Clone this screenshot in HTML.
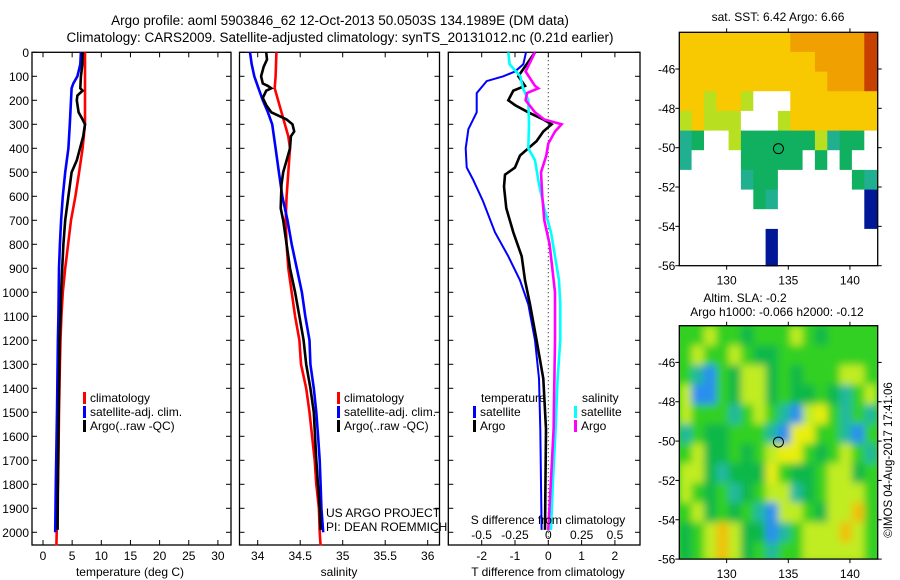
<!DOCTYPE html>
<html><head><meta charset="utf-8"><style>
html,body{margin:0;padding:0;background:#fff;}
svg{display:block;font-family:"Liberation Sans",sans-serif;}
</style></head><body>
<svg id="s" width="900" height="580" viewBox="0 0 900 580">
<defs>
<filter id="blur" x="-10%" y="-10%" width="120%" height="120%"><feGaussianBlur stdDeviation="4"/></filter>
<clipPath id="clipSla"><rect x="679.3" y="325.7" width="198.4" height="233.4"/></clipPath>
</defs>
<text x="340" y="25" font-size="13.5" text-anchor="middle">Argo profile: aoml 5903846_62 12-Oct-2013 50.0503S 134.1989E (DM data)</text>
<text x="340" y="42" font-size="13.5" text-anchor="middle">Climatology: CARS2009. Satellite-adjusted climatology: synTS_20131012.nc (0.21d earlier)</text>
<g id="p1"></g>
<g id="p2"></g>
<g id="p3"></g>
<g id="m1"></g>
<g id="m2"></g>
<text x="130" y="576" font-size="12" text-anchor="middle">temperature (deg C)</text>
<text x="339" y="576" font-size="12" text-anchor="middle">salinity</text>
<text x="548" y="576" font-size="12" text-anchor="middle">T difference from climatology</text>
<text x="548" y="524" font-size="12" text-anchor="middle">S difference from climatology</text>
<text x="326" y="517" font-size="12">US ARGO PROJECT</text>
<text x="326" y="531" font-size="12">PI: DEAN ROEMMICH</text>
<text x="778" y="21" font-size="12" text-anchor="middle">sat. SST: 6.42 Argo: 6.66</text>
<text x="745" y="302" font-size="12" text-anchor="middle">Altim. SLA: -0.2</text>
<text x="777" y="316" font-size="12" text-anchor="middle">Argo h1000: -0.066 h2000: -0.12</text>
<text x="0" y="0" font-size="11.5" text-anchor="middle" transform="translate(892,460) rotate(-90)">©IMOS 04-Aug-2017 17:41:06</text>
</svg>
<script>
// ---- data ----
const depthTicks=[0,100,200,300,400,500,600,700,800,900,1000,1100,1200,1300,1400,1500,1600,1700,1800,1900,2000];
const tempTicks=[0,5,10,15,20,25,30];
const salTicks=[34,34.5,35,35.5,36];
const tdiffTicks=[-2,-1,0,1,2];
const sdiffTicks=[-0.5,-0.25,0,0.25,0.5];
const sdiffLabels=["-0.5","-0.25","0","0.25","0.5"];

const tClimDepth=[0,300,400,500,600,700,800,900,1000,1100,1200,1300,1500,1700,1800,2000,2055];
const tClim=[7.2,7.2,6.8,6.2,5.55,4.8,4.3,3.8,3.4,3.15,3.0,2.9,2.75,2.65,2.55,2.35,2.3];
const tSatDepth=[0,50,100,130,150,200,300,400,500,600,700,800,900,1000,1100,1200,1500,1800,2000];
const tSat=[6.5,6.4,5.9,5.2,4.9,4.8,4.6,4.35,3.8,3.4,3.1,2.9,2.75,2.7,2.65,2.55,2.4,2.2,2.1];
const tArgoDepth=[0,50,100,150,160,180,200,250,280,300,350,400,450,500,600,700,800,900,1000,1100,1200,1400,1600,1800,1990];
const tArgo=[6.8,6.75,6.5,6.4,6.8,5.9,5.8,6.1,6.8,7.2,6.9,6.35,5.8,4.9,4.35,3.8,3.5,3.3,3.1,3.0,2.85,2.75,2.65,2.55,2.5];

const sClimDepth=[0,100,150,200,250,300,350,400,500,600,700,800,900,1000,1100,1200,1300,1400,1500,1600,1700,1800,1900,2000,2055];
const sClim=[34.22,34.21,34.2,34.24,34.28,34.32,34.36,34.38,34.36,34.34,34.33,34.34,34.36,34.40,34.44,34.49,34.51,34.57,34.61,34.64,34.67,34.69,34.72,34.73,34.74];
const sSatDepth=[0,50,100,150,200,250,300,400,500,600,700,800,900,1000,1100,1200,1300,1400,1500,1600,1700,1800,1900,2000];
const sSat=[33.91,33.93,33.96,34.01,34.06,34.12,34.17,34.21,34.25,34.29,34.35,34.40,34.46,34.52,34.56,34.61,34.62,34.66,34.69,34.71,34.73,34.74,34.75,34.77];
const sArgoDepth=[0,30,60,100,130,140,150,160,190,220,250,260,280,300,330,350,400,450,500,550,650,700,800,900,1000,1100,1200,1300,1400,1500,1700,1900,1990];
const sArgo=[34.10,34.11,34.07,34.04,34.06,34.12,34.16,34.10,34.06,34.10,34.16,34.22,34.34,34.41,34.43,34.39,34.38,34.34,34.30,34.28,34.27,34.30,34.34,34.38,34.44,34.49,34.54,34.57,34.62,34.66,34.69,34.73,34.74];

const dTSatDepth=[0,50,80,100,120,170,250,320,400,480,530,620,750,850,950,1050,1200,1360,1570,1990];
const dTSat=[-0.67,-0.75,-1.0,-1.35,-1.85,-2.15,-2.15,-2.4,-2.48,-2.45,-2.26,-1.96,-1.6,-1.2,-0.85,-0.6,-0.4,-0.28,-0.24,-0.2];
const dTArgoDepth=[0,100,140,160,200,220,250,280,300,330,370,430,480,510,560,650,750,850,950,1050,1200,1360,1570,1990];
const dTArgo=[-0.4,-0.9,-0.7,-1.05,-1.2,-1.0,-0.6,-0.15,0.1,-0.15,-0.35,-0.85,-1.0,-1.3,-1.33,-1.26,-1.05,-0.8,-0.7,-0.55,-0.35,-0.15,-0.07,-0.1];
const dSArgoDepth=[0,80,140,150,170,200,250,280,300,330,380,430,500,600,700,800,900,1000,1200,1570,1780,1990];
const dSArgo=[-0.1,-0.17,-0.1,-0.075,-0.16,-0.17,-0.1,-0.03,0.1,0.05,0.0,-0.015,-0.055,-0.045,-0.03,0.01,0.03,0.05,0.05,0.04,0.02,0.0];
const dSSatDepth=[0,50,100,150,200,300,400,450,550,650,750,850,950,1050,1200,1360,1570,1780,1990];
const dSSat=[-0.3,-0.29,-0.21,-0.19,-0.15,-0.145,-0.15,-0.1,-0.07,-0.03,0.02,0.05,0.08,0.09,0.09,0.07,0.055,0.035,0.02];

const sstRows=["yyyyyyyyyoooooor","yyyyyyyyyyyoooor","yyyyyyyyyyyyooor","yylyylwwwyyyyyyy","lylllwwwlyyyyyyy","tgwwlggggggltggw","twwwwgggggwgwgww","wwwwwtggwwwwwwgt","wwwwwwgtwwwwwwwn","wwwwwwwwwwwwwwwn","wwwwwwwnwwwwwwww","wwwwwwwnwwwwwwww"];
const slaRows=["ggyggGgggygGgggg","gyggygGGgggggggg","gcbgGyyGgGgggyyg","ybbgGyyGgGGgGcgy","ygggcgygcbyYgcgc","cgGGgggcbYYggcbg","gyGGgGgyYYgGgygc","yyGcGGGYgGGgyyGg","ygGgcGgyycGgyyyg","gyGgGgcbyygGyyog","GgyoyGGbcgyyyoyg","GgyoyGgcggyyyyyg"];
const latTicks=[-46,-48,-50,-52,-54,-56];
const lonTicks=[130,135,140];
const floatLon=134.2, floatLat=-50.05;

// ---- helpers ----
const NS="http://www.w3.org/2000/svg";
function mk(parent,tag,attrs){const e=document.createElementNS(NS,tag);for(const k in attrs)e.setAttribute(k,attrs[k]);parent.appendChild(e);return e;}
const Y0=52.3, YS=0.24;
const yD=d=>Y0+d*YS;

function panel(g,x0,x1,xf,ticks,labels,showY,name){
  const r=mk(g,'rect',{x:x0,y:Y0,width:x1-x0,height:545-Y0,fill:'none',stroke:'#000','stroke-width':1.3});
  
  
  depthTicks.forEach(d=>{
    mk(g,'line',{x1:x0,x2:x0+5,y1:yD(d),y2:yD(d),stroke:'#000'});
    mk(g,'line',{x1:x1,x2:x1-5,y1:yD(d),y2:yD(d),stroke:'#000'});
    if(showY){const t=mk(g,'text',{x:x0-3,y:yD(d)+4.5,'font-size':12,'text-anchor':'end'});t.textContent=d;
      
      }
  });
  ticks.forEach((v,i)=>{
    const x=xf(v);
    mk(g,'line',{x1:x,x2:x,y1:545,y2:540,stroke:'#000'});
    mk(g,'line',{x1:x,x2:x,y1:Y0,y2:Y0+5,stroke:'#000'});
    if(labels){const t=mk(g,'text',{x:x,y:560,'font-size':12,'text-anchor':'middle'});t.textContent=labels[i];
      
      }
  });
}
function line(g,depths,vals,xf,color,name,w){
  const pts=depths.map((d,i)=>xf(vals[i]).toFixed(1)+','+yD(d).toFixed(1)).join(' ');
  const p=mk(g,'polyline',{points:pts,fill:'none',stroke:color,'stroke-width':w||2.6,'stroke-linejoin':'miter'});
  
  
}
function legend(g,x,y,color,label,name){
  mk(g,'rect',{x:x,y:y-10,width:3,height:12,fill:color});
  const t=mk(g,'text',{x:x+7,y:y,'font-size':12});t.textContent=label;
  
  
}

// panel 1
const p1=document.getElementById('p1');
const xT=v=>43+v*5.83;
panel(p1,32,231,xT,tempTicks,tempTicks,true,'temperature');
line(p1,tClimDepth,tClim,xT,'#ff0000','temp-climatology-line');
line(p1,tSatDepth,tSat,xT,'#0000ff','temp-satellite-line');
line(p1,tArgoDepth,tArgo,xT,'#000000','temp-argo-line');
legend(p1,83,402,'#f00','climatology','legend-climatology');
legend(p1,83,416,'#00f','satellite-adj. clim.','legend-satellite');
legend(p1,83,430,'#000','Argo(..raw -QC)','legend-argo');

// panel 2
const p2=document.getElementById('p2');
const xS=v=>257.7+(v-34)*85;
panel(p2,239.5,439.5,xS,salTicks,salTicks,false,'salinity');
line(p2,sClimDepth,sClim,xS,'#ff0000','sal-climatology-line');
line(p2,sSatDepth,sSat,xS,'#0000ff','sal-satellite-line');
line(p2,sArgoDepth,sArgo,xS,'#000000','sal-argo-line');
legend(p2,337,402,'#f00','climatology','legend-climatology-2');
legend(p2,337,416,'#00f','satellite-adj. clim.','legend-satellite-2');
legend(p2,337,430,'#000','Argo(..raw -QC)','legend-argo-2');

// panel 3
const p3=document.getElementById('p3');
const xDT=v=>548.3+v*33.3;
const xDS=v=>548.3+v*133.3;
panel(p3,448.3,640,xDT,tdiffTicks,tdiffTicks,false,'t-diff');
sdiffTicks.forEach((v,i)=>{const t=mk(p3,'text',{x:xDS(v),y:539,'font-size':12,'text-anchor':'middle'});t.textContent=sdiffLabels[i];
  
  });
mk(p3,'line',{x1:548.3,x2:548.3,y1:Y0,y2:545,stroke:'#000','stroke-dasharray':'1,3'});
line(p3,dTSatDepth,dTSat,xDT,'#0000ff','tdiff-satellite-line',2);
line(p3,dTArgoDepth,dTArgo,xDT,'#000000','tdiff-argo-line');
line(p3,dSSatDepth,dSSat,xDS,'#00ffff','sdiff-satellite-line');
line(p3,dSArgoDepth,dSArgo,xDS,'#ff00ff','sdiff-argo-line');
{const t=mk(p3,'text',{x:481,y:402,'font-size':12});t.textContent='temperature';
 
 }
{const t=mk(p3,'text',{x:582,y:402,'font-size':12});t.textContent='salinity';
 
 }
legend(p3,473,416,'#00f','satellite','legend-t-satellite');
legend(p3,473,430,'#000','Argo','legend-t-argo');
legend(p3,574,416,'#0ff','satellite','legend-s-satellite');
legend(p3,574,430,'#f0f','Argo','legend-s-argo');

// maps
const colors={r:'#c84000',o:'#f0a000',y:'#f8c800',l:'#b8e020',g:'#10b060',t:'#20b090',w:'#ffffff',n:'#001898',b:'#2090f0'};
const slaColors={g:'#30d020',G:'#10b848',y:'#c0ec20',Y:'#e8ee10',c:'#20b8a0',b:'#2a8ef0',o:'#f0c010'};
function map(g,top,rows,pal,name,smooth){
  const L=679.3,R=877.7,B=top+233.4;
  const lonX=v=>L+(v-126.16)*12.33;
  const latY=v=>B-(v+56)*19.67;
  let cg=g;
  if(smooth){
    const outer=mk(g,'g',{'clip-path':'url(#clipSla)'});
    mk(outer,'rect',{x:L,y:top,width:R-L,height:B-top,fill:'#30d020'});
    cg=mk(outer,'g',{filter:'url(#blur)'});
  }
  rows.forEach((row,ri)=>{
    for(let ci=0;ci<row.length;ci++){
      const x=lonX(126.16+ci), y=latY(-44.13-ri);
      const c=mk(cg,'rect',{x:x.toFixed(1),y:y.toFixed(1),width:12.9,height:20.2,fill:pal[row[ci]]});
      
      
    }
  });
  if(!smooth){
    mk(g,'rect',{x:R+0.7,y:top-2,width:20,height:B-top+4,fill:'#fff'});
    mk(g,'rect',{x:L,y:B+0.7,width:R-L,height:3,fill:'#fff'});
  }
  mk(g,'rect',{x:L,y:top,width:R-L,height:B-top,fill:'none',stroke:'#000','stroke-width':1.3});
  latTicks.forEach(v=>{
    const y=latY(v);
    mk(g,'line',{x1:L-4,x2:L,y1:y,y2:y,stroke:'#000'});
    mk(g,'line',{x1:R,x2:R+4,y1:y,y2:y,stroke:'#000'});
    const t=mk(g,'text',{x:L-4,y:y+4.5,'font-size':12,'text-anchor':'end'});t.textContent=v;
    
    
  });
  lonTicks.forEach(v=>{
    const x=lonX(v);
    mk(g,'line',{x1:x,x2:x,y1:B,y2:B+4,stroke:'#000'});
    mk(g,'line',{x1:x,x2:x,y1:top,y2:top-4,stroke:'#000'});
    const t=mk(g,'text',{x:x,y:B+19,'font-size':12,'text-anchor':'middle'});t.textContent=v;
    
    
  });
  const m=mk(g,'circle',{cx:lonX(floatLon),cy:latY(floatLat),r:5,fill:'none',stroke:'#000'});
  
  
}
map(document.getElementById('m1'),32.3,sstRows,colors,'sst-map',false);
map(document.getElementById('m2'),325.7,slaRows,slaColors,'sla-map',true);
</script>
</body></html>
